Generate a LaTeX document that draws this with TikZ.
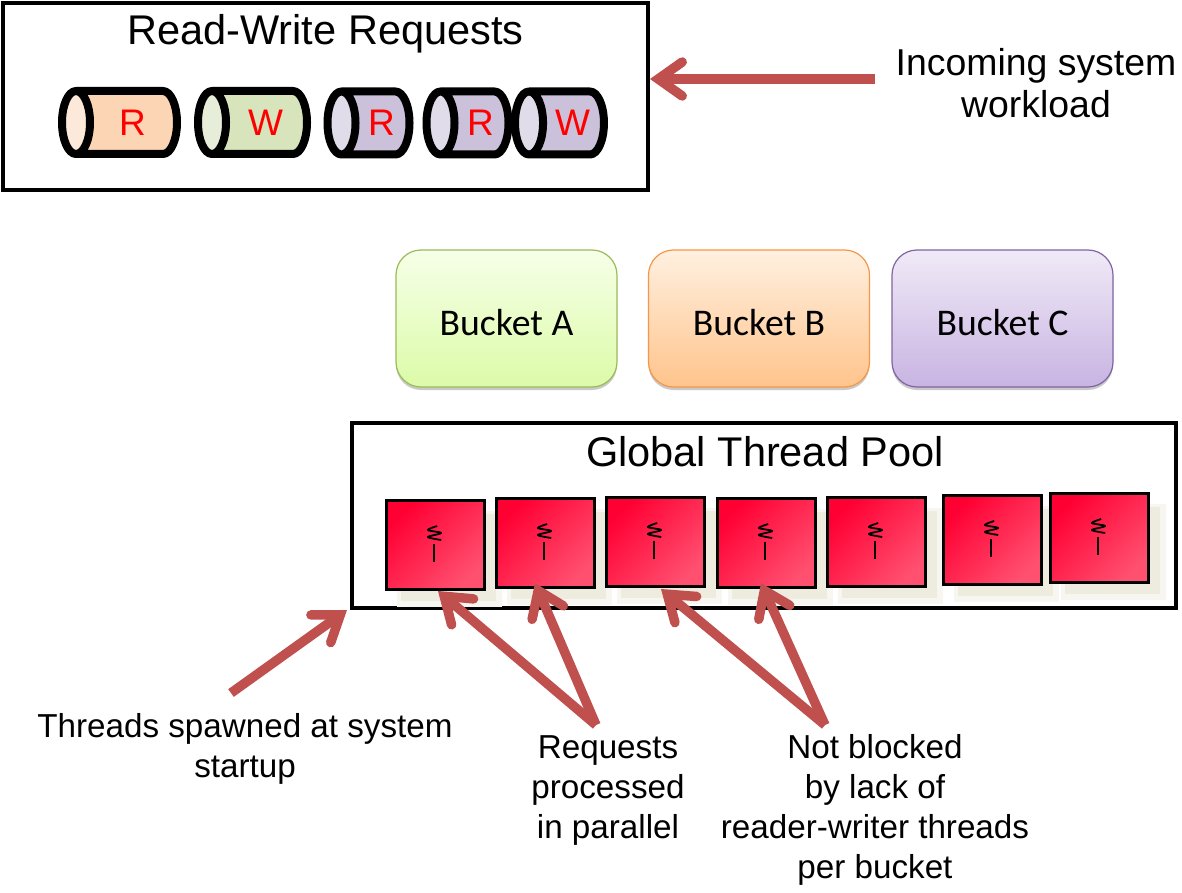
\documentclass[tikz,border=0pt]{standalone}
\usepackage{fontspec}
\setmainfont{Liberation Sans}
\newfontfamily\bucketfont{Carlito}
\usetikzlibrary{arrows.meta,shapes.geometric,shadows}
\definecolor{arrowred}{HTML}{C0504D}
\definecolor{threadA}{HTML}{FF0033}
\definecolor{threadM}{HTML}{FF3C62}
\definecolor{threadB}{HTML}{FF5070}
\definecolor{threadshadow}{HTML}{EEEBDF}
\definecolor{reqO}{HTML}{FCD5B5}
\definecolor{reqOe}{HTML}{FDE9D9}
\definecolor{reqG}{HTML}{D7E4BC}
\definecolor{reqGe}{HTML}{E6EEDA}
\definecolor{reqP}{HTML}{CCC1DA}
\definecolor{reqPe}{HTML}{E0DCE9}
\definecolor{edgeA}{HTML}{9BBB59}
\definecolor{topA}{HTML}{F6FFE8}
\definecolor{lowA}{HTML}{DCFBA8}
\definecolor{edgeB}{HTML}{F79646}
\definecolor{topB}{HTML}{FFF0E0}
\definecolor{lowB}{HTML}{FFC48C}
\definecolor{edgeC}{HTML}{8064A2}
\definecolor{topC}{HTML}{F0EAF7}
\definecolor{lowC}{HTML}{C8B4E2}
\tikzset{
  panel/.style={draw,line width=4pt,inner sep=0pt},
  title/.style={font=\fontsize{41.5}{46}\selectfont},
  note/.style={font=\fontsize{33.2}{40}\selectfont,align=center},
  req/.style n args={3}{cylinder,shape border rotate=180,shape aspect=1.1,draw,line width=8pt,line join=round,
    cylinder uses custom fill,cylinder body fill=#2,cylinder end fill=#3,
    minimum width=63pt,minimum height=#1,inner sep=0pt,text=red,font=\fontsize{37}{37}\selectfont,
    execute at begin node=\hspace*{8pt}},
  bucket/.style n args={3}{draw=#1,line width=1.2pt,rounded corners=25pt,top color=#2,bottom color=#3,
    minimum width=221pt,minimum height=137pt,text height=34pt,text depth=0pt,
    font=\bucketfont\fontsize{37.7}{38}\selectfont,
    drop shadow={shadow xshift=0pt,shadow yshift=-3pt,fill=black!30,opacity=0.7}},
  thread/.style={draw,line width=2.5pt,left color=threadA,middle color=threadM,right color=threadB,shading angle=45,
    minimum width=98pt,minimum height=89pt,
    drop shadow={shadow xshift=13pt,shadow yshift=-13pt,shadow scale=1.07,fill=threadshadow!45,opacity=1},
    drop shadow={shadow xshift=13pt,shadow yshift=-13pt,shadow scale=0.97,fill=threadshadow,opacity=1}},
  fat/.style={line width=9.5pt,arrowred,-{Straight Barb[length=24pt,width=34pt,line cap=round,line join=miter]}}
}
\begin{document}
\begin{tikzpicture}[x=1pt,y=-1pt]
\useasboundingbox (0,0) rectangle (1182,893);
\node[panel,minimum width=645pt,minimum height=187pt] (reqbox) at (325.5,96.5) {};
\node[title] (reqtitle) at (325.5,34) {Read-Write Requests};
\node[req={115pt}{reqO}{reqOe}] (r1) at (128.5,122.5) {R};
\node[req={109pt}{reqG}{reqGe}] (w1) at (261.5,122.5) {W};
\node[req={82pt}{reqP}{reqPe}] (r2) at (377.5,123) {R};
\node[req={82pt}{reqP}{reqPe}] (r3) at (476.5,123) {R};
\node[req={82pt}{reqP}{reqPe}] (w2) at (568.5,123) {W};
\node[note,font=\fontsize{37.4}{42}\selectfont] (workload) at (1036,83) {Incoming system\\workload};
\coordinate (worktail) at (875,79);
\draw[fat] (worktail) -- (reqbox.east |- worktail);
\node[bucket={edgeA}{topA}{lowA}] (bucketA) at (506.5,318.5) {Bucket A};
\node[bucket={edgeB}{topB}{lowB}] (bucketB) at (759,318.5) {Bucket B};
\node[bucket={edgeC}{topC}{lowC}] (bucketC) at (1002.5,318.5) {Bucket C};
\node[panel,minimum width=824pt,minimum height=185pt] (pool) at (764,515) {};
\node[title] (pooltitle) at (765,452) {Global Thread Pool};
\foreach \n/\x/\y in {1/435.5/545,2/545.5/543,3/655.5/542,4/766.5/543,5/876.5/542,6/992.5/540,7/1099.5/538}{
  \node[thread] (tp\n) at (\x,\y) {};
  \draw[line width=1.8pt,line join=round,shift={(tp\n.center)}] plot[smooth] coordinates {(1.7,-19) (-7.7,-15) (5.7,-12) (-7.7,-8) (5.7,-5)};
  \draw[line width=1.8pt,shift={(tp\n.center)}] (-1.7,-1) -- (-1.7,17);
}
\node[note] (spawn) at (245,749) {Threads spawned at system\\startup};
\node[note] (parallel) at (608,791) {Requests\\processed\\in parallel};
\node[note] (blocked) at (875,810) {Not blocked\\by lack of\\reader-writer threads\\per bucket};
\coordinate (spawntail) at (231,693);
\coordinate (spawntip) at (347,610);
\coordinate (partail) at (596,725);
\coordinate (blocktail) at (825,725);
\coordinate (tipA) at (438,591);
\coordinate (tipB) at (535,583);
\coordinate (tipC) at (661,589);
\coordinate (tipD) at (761,583);
\draw[fat] (spawntail) -- (spawntip);
\draw[fat] (partail) -- (tipA);
\draw[fat] (partail) -- (tipB);
\draw[fat] (blocktail) -- (tipC);
\draw[fat] (blocktail) -- (tipD);
\end{tikzpicture}
\end{document}
